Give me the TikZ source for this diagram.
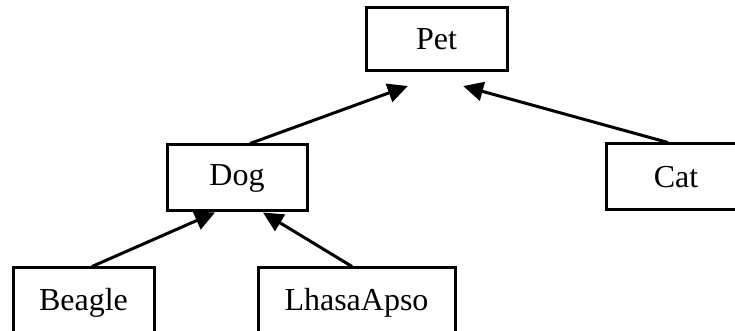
\documentclass[tikz,border=0pt]{standalone}
\usepackage{fontspec}
\setmainfont{Liberation Serif}
\usetikzlibrary{arrows.meta}
\begin{document}
\begin{tikzpicture}[x=1pt,y=1pt,
  box/.style={draw=black, line width=3pt, rectangle, minimum height=64pt, inner sep=0pt, font=\fontsize{32}{38}\selectfont},
  arr/.style={line width=3pt, -{Triangle[length=20pt,width=19pt]}}]
\clip (0,0) rectangle (735,331);
\fill[white] (0,0) rectangle (735,331);
\node[box, minimum width=141pt, minimum height=63pt] (pet) at (436.5,291.5) {Pet};
\node[box, minimum width=140pt, minimum height=66pt] (dog) at (237,153) {Dog};
\node[box, minimum width=140pt, minimum height=66pt] (cat) at (676,154) {Cat};
\node[box, minimum width=141pt, minimum height=70pt] (beagle) at (83.5,28) {Beagle};
\node[box, minimum width=197pt, minimum height=70pt] (lhasa) at (356.5,28) {LhasaApso};
\draw[arr, shorten >=39.6pt] ([xshift=13pt]dog.north) -- ([xshift=8.5pt]pet.south);
\draw[arr, shorten >=51pt] ([xshift=-8pt]cat.north) -- ([xshift=-22.5pt]pet.south);
\draw[arr] ([xshift=8.5pt]beagle.north) -- ([xshift=-22pt]dog.south);
\draw[arr] ([xshift=-4.5pt]lhasa.north) -- ([xshift=26pt]dog.south);
\end{tikzpicture}
\end{document}
